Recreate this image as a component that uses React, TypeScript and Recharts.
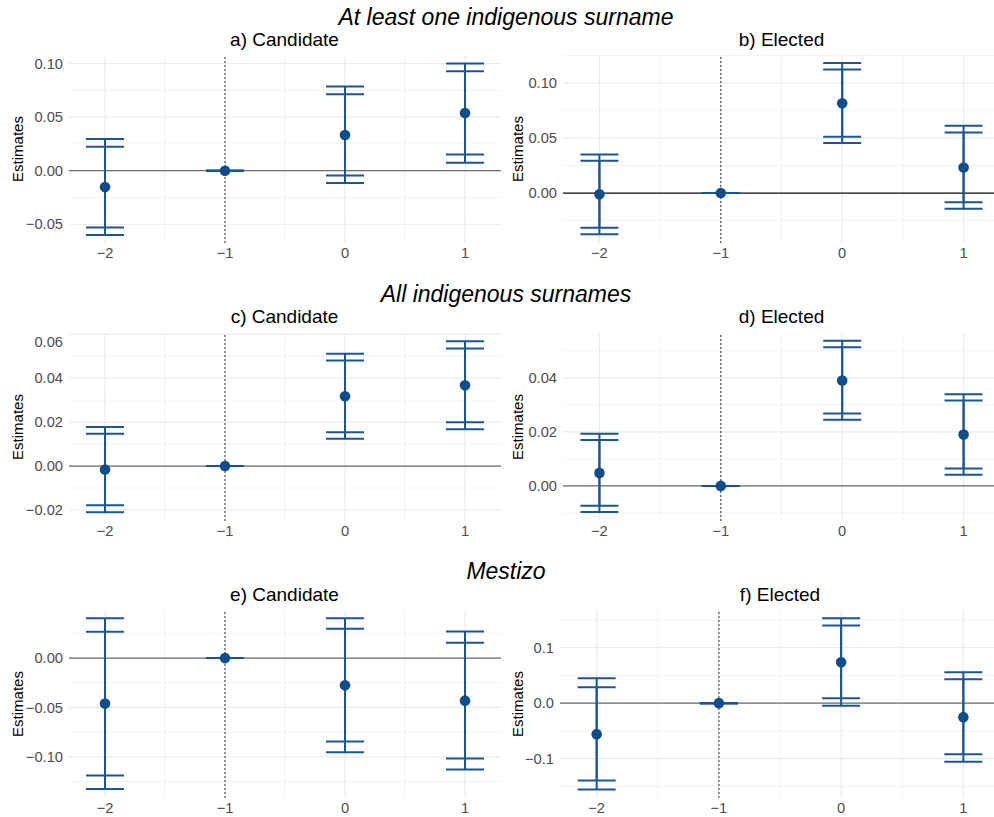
import React from 'react';
import { ComposedChart, Scatter, ErrorBar, XAxis, YAxis, CartesianGrid, ReferenceLine, Label } from 'recharts';

// event time (periods relative to treatment), -1 is the reference period
const periods = [-2, -1, 0, 1];
const minorX = [-1.5, -0.5, 0.5];

// a) Candidate, at least one indigenous surname
const aEst = [-0.0153, 0, 0.0333, 0.0538];
const aLo95 = [-0.06, 0, -0.0116, 0.0075];
const aHi95 = [0.0295, 0, 0.0785, 0.1];
const aLo90 = [-0.053, 0, -0.0044, 0.015];
const aHi90 = [0.0224, 0, 0.0713, 0.0928];

// b) Elected, at least one indigenous surname
const bEst = [-0.0012, 0, 0.0818, 0.0233];
const bLo95 = [-0.0376, 0, 0.0455, -0.0143];
const bHi95 = [0.0351, 0, 0.1185, 0.0612];
const bLo90 = [-0.0315, 0, 0.0512, -0.0085];
const bHi90 = [0.0294, 0, 0.1124, 0.0551];

// c) Candidate, all indigenous surnames
const cEst = [-0.0016, 0, 0.0317, 0.0367];
const cLo95 = [-0.021, 0, 0.0124, 0.0167];
const cHi95 = [0.0178, 0, 0.0511, 0.0567];
const cLo90 = [-0.0178, 0, 0.0154, 0.0199];
const cHi90 = [0.0147, 0, 0.048, 0.0534];

// d) Elected, all indigenous surnames
const dEst = [0.0048, 0, 0.039, 0.019];
const dLo95 = [-0.0097, 0, 0.0245, 0.0041];
const dHi95 = [0.0193, 0, 0.0537, 0.0339];
const dLo90 = [-0.0074, 0, 0.0268, 0.0064];
const dHi90 = [0.017, 0, 0.0513, 0.0316];

// e) Candidate, mestizo
const eEst = [-0.0461, 0, -0.0276, -0.0431];
const eLo95 = [-0.1327, 0, -0.0953, -0.1128];
const eHi95 = [0.0404, 0, 0.0404, 0.027];
const eLo90 = [-0.1189, 0, -0.0845, -0.1017];
const eHi90 = [0.0266, 0, 0.0296, 0.0155];

// f) Elected, mestizo
const fEst = [-0.0559, 0, 0.0739, -0.0252];
const fLo95 = [-0.1555, 0, -0.0048, -0.1056];
const fHi95 = [0.045, 0, 0.1532, 0.0559];
const fLo90 = [-0.1393, 0, 0.009, -0.0919];
const fHi90 = [0.0288, 0, 0.14, 0.0432];

// y ticks per panel
const aTicks = [-0.05, 0, 0.05, 0.1];
const bTicks = [0, 0.05, 0.1];
const cTicks = [-0.02, 0, 0.02, 0.04, 0.06];
const dTicks = [0, 0.02, 0.04];
const eTicks = [-0.1, -0.05, 0];
const fTicks = [-0.1, 0, 0.1];

const buildRows = (est: number[], lo95: number[], hi95: number[], lo90: number[], hi90: number[]) =>
	periods.map((p, i) => ({
		period: p,
		est: est[i],
		ci95: [est[i] - lo95[i], hi95[i] - est[i]],
		ci90: [est[i] - lo90[i], hi90[i] - est[i]],
	}));

// minor grid sits halfway between the major ticks
const minorOf = (ticks: number[], domain: number[]) => {
	const step = ticks[1] - ticks[0];
	const out: number[] = [];
	for (let v = ticks[0] - step * 1.5; v <= domain[1] + 1e-9; v += step) {
		if (v >= domain[0]) out.push(+v.toFixed(6));
	}
	return out;
};

const minus = (s: string) => s.replace('-', '\u2212');

const BLUE = '#1a5696';
const DOT = '#104E8B';
const FONT = '"Liberation Sans", Arial, sans-serif';

const renderDot = (props: any) => <circle cx={props.cx} cy={props.cy} r={5.3} fill={DOT} />;

type PanelProps = {
	rows: any[];
	domain: number[];
	ticks: number[];
	decimals: number;
	left: number;
	top: number;
	width: number;
	yWidth: number;
	marginRight: number;
	zeroColor: string;
};

const PLOT_H = 188;

const Panel: React.FC<PanelProps> = ({ rows, domain, ticks, decimals, left, top, width, yWidth, marginRight, zeroColor }) => {
	const minorY = minorOf(ticks, domain);
	return (
		<div style={{ position: 'absolute', left, top }}>
			<ComposedChart width={width} height={PLOT_H + 20} data={rows} margin={{ top: 0, right: marginRight, bottom: 0, left: 8 }}>
				<CartesianGrid horizontalValues={minorY} verticalValues={minorX} stroke="#f3f3f3" strokeWidth={1} />
				<CartesianGrid horizontalValues={ticks} verticalValues={periods} stroke="#ebebeb" strokeWidth={1.2} />
				<XAxis
					type="number"
					dataKey="period"
					domain={[-2.3, 1.3]}
					ticks={periods}
					allowDataOverflow
					height={20}
					axisLine={false}
					tickLine={false}
					tickSize={3}
					tickMargin={2}
					tickFormatter={(v) => minus(String(v))}
					tick={{ fill: '#4d4d4d', fontSize: 14.7, fontFamily: FONT }}
				/>
				<YAxis
					type="number"
					domain={domain}
					ticks={ticks}
					allowDataOverflow
					width={yWidth}
					axisLine={false}
					tickLine={false}
					tickSize={4}
					tickMargin={2}
					tickFormatter={(v) => minus(Number(v).toFixed(decimals))}
					tick={{ fill: '#4d4d4d', fontSize: 14.7, fontFamily: FONT }}
				>
					<Label value="Estimates" angle={-90} position="insideLeft" offset={9.5} style={{ textAnchor: 'middle', fill: '#000', fontSize: 15, fontFamily: FONT }} />
				</YAxis>
				<ReferenceLine y={0} stroke={zeroColor} strokeWidth={1.2} />
				<ReferenceLine x={-1} stroke="#444" strokeWidth={1.1} strokeDasharray="2 2" />
				<Scatter dataKey="est" shape={renderDot} isAnimationActive={false}>
					<ErrorBar dataKey="ci95" direction="y" width={19} stroke={BLUE} strokeWidth={2} />
					<ErrorBar dataKey="ci90" direction="y" width={19} stroke={BLUE} strokeWidth={2} />
				</Scatter>
			</ComposedChart>
		</div>
	);
};

const headers = [
	{ text: 'At least one indigenous surname', y: 24.7 },
	{ text: 'All indigenous surnames', y: 302 },
	{ text: 'Mestizo', y: 579 },
];

const subtitles = [
	{ text: 'a) Candidate', x: 284.5, y: 46 },
	{ text: 'b) Elected', x: 781.5, y: 46 },
	{ text: 'c) Candidate', x: 284.5, y: 323.3 },
	{ text: 'd) Elected', x: 781.5, y: 323.3 },
	{ text: 'e) Candidate', x: 284.5, y: 600.5 },
	{ text: 'f) Elected', x: 780, y: 600.5 },
];

export default function App() {
	return (
		<div style={{ position: 'fixed', left: 0, top: 0, width: 994, height: 817, overflow: 'hidden', background: '#fff' }}>
			<svg width={994} height={817} style={{ position: 'absolute', left: 0, top: 0 }}>
				{headers.map((h) => (
					<text key={h.text} x={506} y={h.y} textAnchor="middle" fontStyle="italic" fontSize={23} fontFamily={FONT} fill="#000">
						{h.text}
					</text>
				))}
				{subtitles.map((s) => (
					<text key={s.text} x={s.x} y={s.y} textAnchor="middle" fontSize={19} fontFamily={FONT} fill="#000">
						{s.text}
					</text>
				))}
			</svg>

			<Panel rows={buildRows(aEst, aLo95, aHi95, aLo90, aHi90)} domain={[-0.0675, 0.108]} ticks={aTicks} decimals={2}
				left={0} top={55} width={502} yWidth={61} marginRight={1} zeroColor="#6e6e6e" />
			<Panel rows={buildRows(bEst, bLo95, bHi95, bLo90, bHi90)} domain={[-0.0455, 0.1257]} ticks={bTicks} decimals={2}
				left={500} top={55} width={500} yWidth={55} marginRight={0} zeroColor="#111" />

			<Panel rows={buildRows(cEst, cLo95, cHi95, cLo90, cHi90)} domain={[-0.025, 0.0605]} ticks={cTicks} decimals={2}
				left={0} top={332.5} width={502} yWidth={61} marginRight={1} zeroColor="#6e6e6e" />
			<Panel rows={buildRows(dEst, dLo95, dHi95, dLo90, dHi90)} domain={[-0.013, 0.0566]} ticks={dTicks} decimals={2}
				left={500} top={332.5} width={500} yWidth={55} marginRight={0} zeroColor="#6e6e6e" />

			<Panel rows={buildRows(eEst, eLo95, eHi95, eLo90, eHi90)} domain={[-0.1417, 0.0487]} ticks={eTicks} decimals={2}
				left={0} top={610} width={502} yWidth={61} marginRight={1} zeroColor="#6e6e6e" />
			<Panel rows={buildRows(fEst, fLo95, fHi95, fLo90, fHi90)} domain={[-0.171, 0.168]} ticks={fTicks} decimals={1}
				left={500} top={610} width={500} yWidth={52} marginRight={0} zeroColor="#6e6e6e" />
		</div>
	);
}
